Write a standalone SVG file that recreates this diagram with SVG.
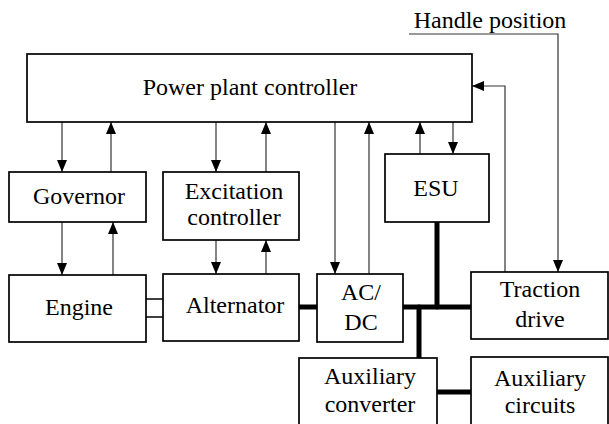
<svg xmlns="http://www.w3.org/2000/svg" width="609" height="424" viewBox="0 0 609 424">
<style>
.box{fill:#fff;stroke:#000;stroke-width:1.7}
.t{font-family:'Liberation Serif','Times New Roman',serif;font-size:24px;fill:#000;text-anchor:middle}
.ln{fill:none;stroke:#333;stroke-width:1.2}
.arr{marker-end:url(#ah)}
.bus{fill:none;stroke:#000;stroke-width:5;stroke-linecap:round}
.sh{fill:none;stroke:#000;stroke-width:1.6}
</style>
<defs>
<marker id="ah" viewBox="0 0 12 10" refX="12" refY="5" markerWidth="12" markerHeight="10" markerUnits="userSpaceOnUse" orient="auto">
<path d="M0,0 L12,5 L0,10 z" fill="#000"/>
</marker>
</defs>
<rect width="609" height="424" fill="#fff"/>
<g id="connectors">
<path class="ln arr" d="M62,122 V172"/>
<path class="ln arr" d="M111,172 V122"/>
<path class="ln arr" d="M62,222 V275"/>
<path class="ln arr" d="M113,275 V222"/>
<path class="ln arr" d="M216,122 V172"/>
<path class="ln arr" d="M266,172 V122"/>
<path class="ln arr" d="M216,240 V274"/>
<path class="ln arr" d="M266,274 V240"/>
<path class="ln arr" d="M335,122 V274"/>
<path class="ln arr" d="M369,274 V122"/>
<path class="ln arr" d="M420,154 V122"/>
<path class="ln arr" d="M453,122 V154"/>
<path class="ln arr" d="M505,272 V86 H472"/>
<path class="ln arr" d="M409,34 H558 V272"/>
<path class="sh" d="M146,299 H163 M146,317 H163"/>
<path class="bus" d="M299,307 H317"/>
<path class="bus" d="M403,307 H471"/>
<path class="bus" d="M437,222 V307"/>
<path class="bus" d="M419,307 V358"/>
<path class="bus" d="M437,392 H471"/>
</g>
<g id="handle-position">
<text class="t" x="490" y="28">Handle position</text>
</g>
<g id="power-plant-controller">
<rect class="box" x="27" y="54" width="445" height="68"/>
<text class="t" x="250" y="95">Power plant controller</text>
</g>
<g id="governor">
<rect class="box" x="9" y="172" width="137" height="50"/>
<text class="t" x="79" y="204">Governor</text>
</g>
<g id="excitation-controller">
<rect class="box" x="163" y="172" width="136" height="68"/>
<text class="t" x="234" y="199">Excitation</text>
<text class="t" x="234" y="225">controller</text>
</g>
<g id="esu">
<rect class="box" x="385" y="154" width="104" height="68"/>
<text class="t" x="436" y="196">ESU</text>
</g>
<g id="engine">
<rect class="box" x="9" y="275" width="137" height="67"/>
<text class="t" x="79" y="315">Engine</text>
</g>
<g id="alternator">
<rect class="box" x="163" y="274" width="136" height="67"/>
<text class="t" x="235" y="313">Alternator</text>
</g>
<g id="ac-dc">
<rect class="box" x="317" y="274" width="86" height="68"/>
<text class="t" x="361" y="300">AC/</text>
<text class="t" x="361" y="330">DC</text>
</g>
<g id="traction-drive">
<rect class="box" x="471" y="272" width="137" height="67"/>
<text class="t" x="540" y="297">Traction</text>
<text class="t" x="540" y="327">drive</text>
</g>
<g id="auxiliary-converter">
<rect class="box" x="299" y="358" width="138" height="75"/>
<text class="t" x="370" y="384">Auxiliary</text>
<text class="t" x="370" y="412">converter</text>
</g>
<g id="auxiliary-circuits">
<rect class="box" x="471" y="357" width="137" height="76"/>
<text class="t" x="540" y="386">Auxiliary</text>
<text class="t" x="540" y="413">circuits</text>
</g>
</svg>
